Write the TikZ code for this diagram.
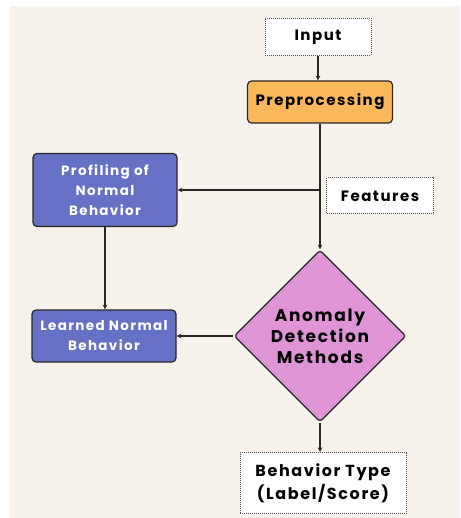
\documentclass[tikz,border=0pt]{standalone}
\usepackage{fontspec}
\setmainfont{Poppins}[UprightFont=* Bold, BoldFont=* Bold, LetterSpace=10]
\usepackage{xcolor}
\usetikzlibrary{shapes.geometric,arrows,positioning,calc}

\definecolor{cream}{RGB}{247,243,236}
\definecolor{prepOrange}{RGB}{249,185,90}
\definecolor{profBlue}{RGB}{102,112,196}
\definecolor{methPink}{RGB}{223,148,214}
\definecolor{lineGray}{RGB}{40,40,40}

\begin{document}
\begin{tikzpicture}[x=1pt, y=-1pt, >=stealth,
    dotbox/.style={draw=lineGray!80, densely dotted, line width=1pt, fill=white, align=center, font=\fontsize{15}{22}\selectfont},
    procbox/.style={draw=lineGray, line width=1.2pt, rounded corners=4pt, align=center},
    flow/.style={->, line width=1.1pt, draw=lineGray}]
    % page and background
    \useasboundingbox (0,0) rectangle (460,518);
    \fill[cream] (10,6) rectangle (460,518);

    % inputs and preprocessing
    \node[dotbox, minimum width=106pt, minimum height=37pt] (inp) at (318,37) {Input};
    \node[procbox, fill=prepOrange, minimum width=145pt, minimum height=42pt, font=\fontsize{15}{18}\selectfont] (prep) at (320,102) {Preprocessing};
    \node[dotbox, minimum width=107pt, minimum height=36pt] (feat) at (380,196) {Features};

    % normal behaviour side
    \node[procbox, fill=profBlue, text=white, minimum width=144pt, minimum height=73pt, font=\fontsize{13.5}{20}\selectfont] (prof) at (105,190) {Profiling of\\Normal\\Behavior};
    \node[procbox, fill=profBlue, text=white, minimum width=144pt, minimum height=52pt, font=\fontsize{13.5}{20}\selectfont] (learn) at (104,336) {Learned Normal\\Behavior};

    % detection
    \node[diamond, draw=lineGray, line width=1.2pt, fill=methPink, rounded corners=3pt, aspect=1, minimum width=172pt, minimum height=172pt, inner sep=0pt, align=center, font=\fontsize{17}{21}\selectfont] (meth) at (320,336) {Anomaly\\Detection\\Methods};
    \node[dotbox, minimum width=166pt, minimum height=61pt, font=\fontsize{16}{23}\selectfont] (out) at (323,483) {Behavior Type\\(Label/Score)};

    % connectors
    \coordinate (split) at (prep.south |- prof.east);
    \draw[flow] (inp.south) -- (inp.south |- prep.north);
    \draw[flow] (prep.south) -- (meth.north);
    \draw[flow] (split) -- (prof.east);
    \draw[flow] (prof.south) -- (prof.south |- learn.north);
    \draw[flow] (meth.west) -- (learn.east);
    \draw[flow] (meth.south) -- (meth.south |- out.north);
\end{tikzpicture}
\end{document}
